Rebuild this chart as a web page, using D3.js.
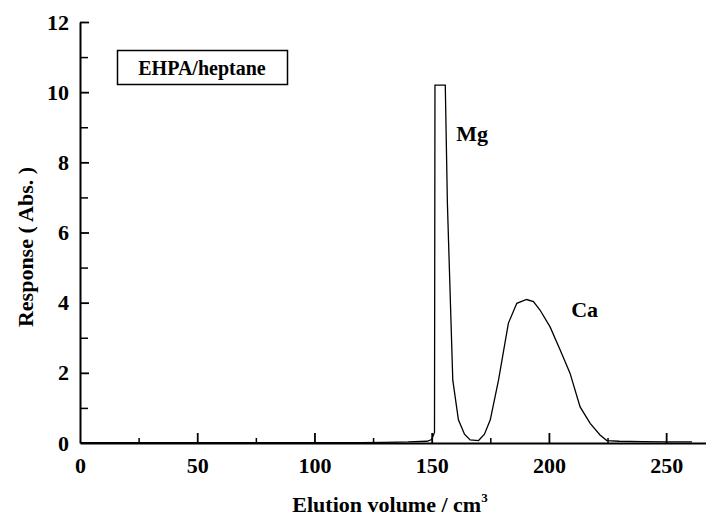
<!DOCTYPE html>
<html>
<head>
<meta charset="utf-8">
<script src="https://cdn.jsdelivr.net/npm/d3@7"></script>
<style>
  body { margin: 0; background: #fff; }
  svg { display: block; }
</style>
</head>
<body>
<div id="container"></div>
<script>
// elution volume (cm3) and detector response (Abs.)
const volume = [0, 20, 40, 60, 80, 100, 120, 130, 140, 148, 150, 151.2, 151.4, 155.8,
  156.7, 159, 161.4, 164, 166.4, 170, 172.5, 175, 178.5, 182.7, 186.3, 190.5, 193.4,
  196.2, 200.5, 204.8, 209, 213.3, 217.6, 221.8, 224.7, 230, 240, 250, 261];
const response = [0.01, 0.01, 0.01, 0.01, 0.01, 0.01, 0.01, 0.02, 0.03, 0.05, 0.1, 0.3, 10.2, 10.2,
  6.83, 1.79, 0.66, 0.25, 0.09, 0.07, 0.25, 0.66, 1.79, 3.41, 3.98, 4.09, 4.03,
  3.79, 3.31, 2.65, 1.99, 1.03, 0.56, 0.23, 0.07, 0.05, 0.04, 0.03, 0.03];

const xTicks = [0, 50, 100, 150, 200, 250];
const xMinorTicks = [25, 75, 125, 175, 225];
const yTicks = [0, 2, 4, 6, 8, 10, 12];
const yMinorTicks = [1, 3, 5, 7, 9, 11];

const peakLabels = [
  { name: "Mg", x: 160.5, y: 8.6 },
  { name: "Ca", x: 209.5, y: 3.6 }
];
const legendText = "EHPA/heptane";

const font = "'Liberation Serif'";
const width = 706;
const height = 524;
const marginLeft = 80;
const marginTop = 22;
const marginBottom = 81;

const svg = d3.select("#container")
  .append("svg")
  .attr("width", width)
  .attr("height", height);

const x = d3.scaleLinear()
  .domain([0, 267])
  .range([marginLeft, width]);

const y = d3.scaleLinear()
  .domain([0, 12])
  .range([height - marginBottom, marginTop]);

// data line
const points = volume.map((v, i) => [v, response[i]]);
svg.append("path")
  .datum(points)
  .attr("fill", "none")
  .attr("stroke", "#000")
  .attr("stroke-width", 1.3)
  .attr("d", d3.line().x(d => x(d[0])).y(d => y(d[1])));

// x axis, ticks pointing inward
const xAxis = svg.append("g")
  .attr("transform", `translate(0,${y(0)})`)
  .call(d3.axisBottom(x).tickValues(xTicks).tickSizeInner(-10).tickSizeOuter(0).tickPadding(14));
xAxis.select(".domain").attr("stroke-width", 2);
xAxis.selectAll(".tick line").attr("stroke-width", 1.8);
xAxis.selectAll(".tick").filter(d => d === 0).select("line").remove();

svg.append("g")
  .attr("transform", `translate(0,${y(0)})`)
  .call(d3.axisBottom(x).tickValues(xMinorTicks).tickSizeInner(-5).tickSizeOuter(0).tickFormat(""))
  .call(g => g.select(".domain").remove())
  .selectAll("line").attr("stroke-width", 1.5);

// y axis
const yAxis = svg.append("g")
  .attr("transform", `translate(${x(0)},0)`)
  .call(d3.axisLeft(y).tickValues(yTicks).tickSizeInner(-9).tickSizeOuter(0).tickPadding(11));
yAxis.select(".domain").attr("stroke-width", 2);
yAxis.selectAll(".tick line").attr("stroke-width", 1.8);
yAxis.selectAll(".tick").filter(d => d === 0).select("line").remove();

svg.append("g")
  .attr("transform", `translate(${x(0)},0)`)
  .call(d3.axisLeft(y).tickValues(yMinorTicks).tickSizeInner(-8).tickSizeOuter(0).tickFormat(""))
  .call(g => g.select(".domain").remove())
  .selectAll("line").attr("stroke-width", 1.5);

// axis titles
const xTitle = svg.append("text")
  .attr("x", 390)
  .attr("y", 512)
  .attr("text-anchor", "middle")
  .attr("font-size", 22);
xTitle.append("tspan").text("Elution volume / cm");
xTitle.append("tspan").attr("dy", -10).attr("font-size", 13).text("3");

svg.append("text")
  .attr("transform", `translate(33,${247}) rotate(-90)`)
  .attr("text-anchor", "middle")
  .attr("font-size", 22)
  .text("Response ( Abs. )");

// legend box
svg.append("rect")
  .attr("x", 117.5)
  .attr("y", 50.5)
  .attr("width", 170)
  .attr("height", 34)
  .attr("fill", "none")
  .attr("stroke", "#000")
  .attr("stroke-width", 1.5);
svg.append("text")
  .attr("x", 202)
  .attr("y", 75)
  .attr("text-anchor", "middle")
  .attr("font-size", 20)
  .text(legendText);

// peak labels
svg.selectAll(".peak")
  .data(peakLabels)
  .enter()
  .append("text")
  .attr("class", "peak")
  .attr("x", d => x(d.x))
  .attr("y", d => y(d.y))
  .attr("font-size", 22)
  .text(d => d.name);

// serif bold on every text, set directly
svg.selectAll("text")
  .attr("font-family", font)
  .attr("font-weight", "bold")
  .attr("fill", "#000");
svg.selectAll(".tick text").attr("font-size", 22);
</script>
</body>
</html>
